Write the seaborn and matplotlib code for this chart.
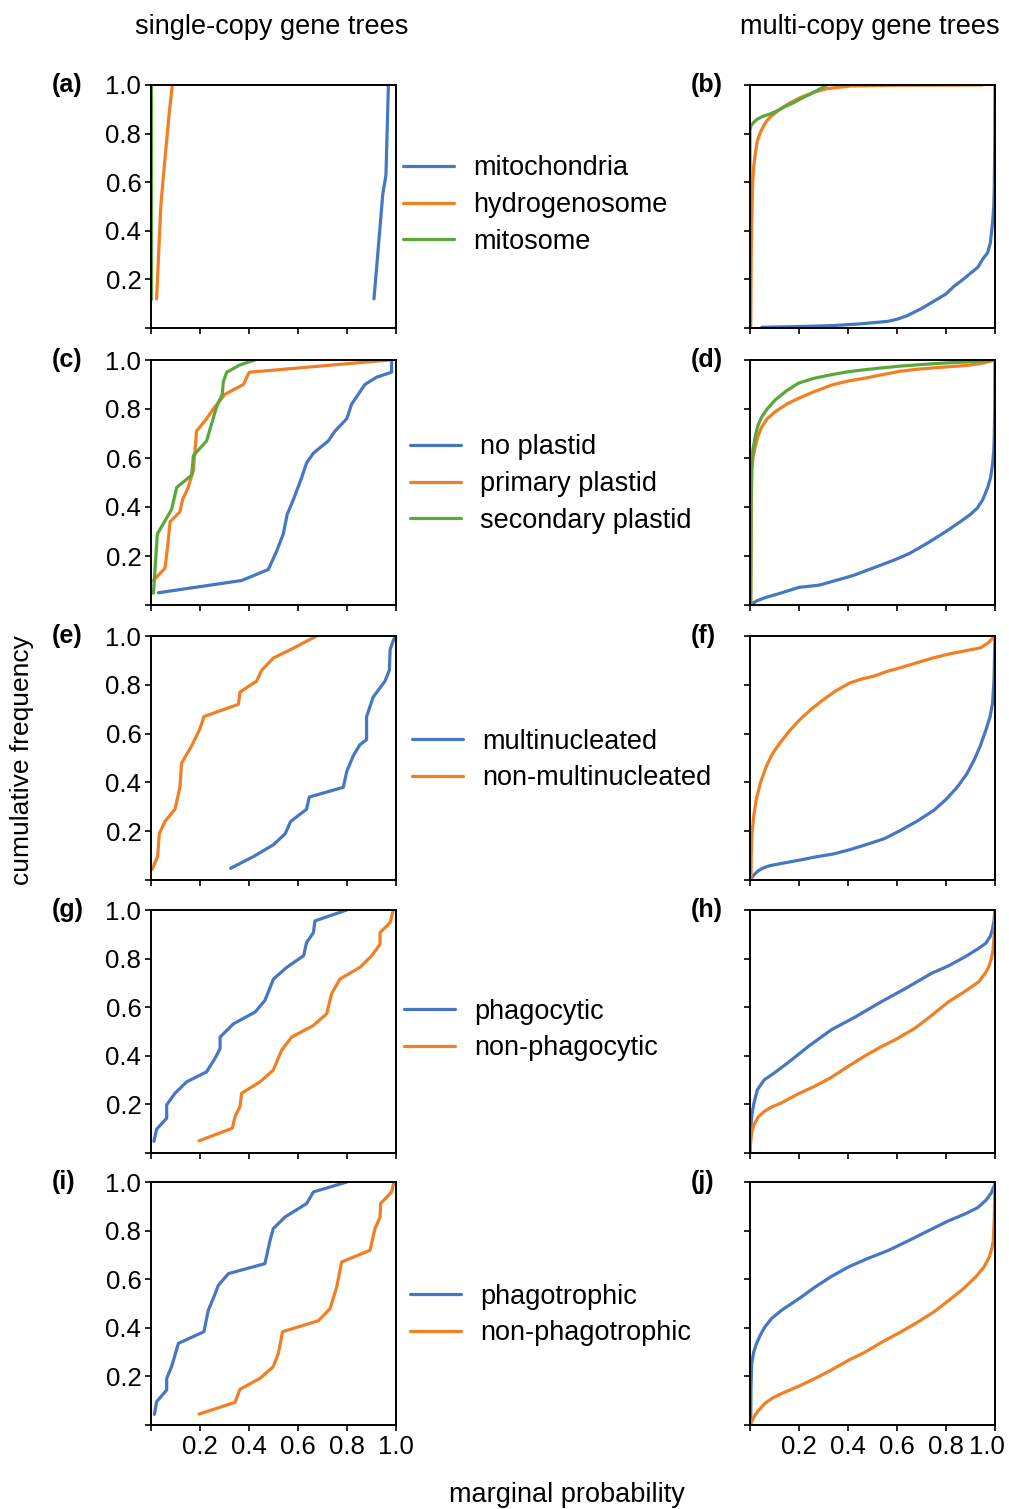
import numpy as np
import pandas as pd
import matplotlib.pyplot as plt
import matplotlib.transforms as mtransforms
from matplotlib.lines import Line2D
import seaborn as sns

sns.set_theme(style="ticks")
plt.rcParams['font.family'] = ['Liberation Sans', 'DejaVu Sans']
plt.rcParams['text.color'] = 'black'
plt.rcParams['xtick.color'] = 'black'
plt.rcParams['ytick.color'] = 'black'

BLUE = '#4677c3'
ORANGE = '#f17f24'
GREEN = '#5aa83a'

# ---- single-copy gene trees (left column) ----
# (a) organelle type
a_mito_x = [0.910, 0.921, 0.946, 0.959, 0.969]
a_mito_y = [0.12, 0.25, 0.55, 0.63, 1.00]
a_hydro_x = [0.023, 0.040, 0.050, 0.074, 0.087]
a_hydro_y = [0.12, 0.50, 0.62, 0.88, 1.00]
a_mitos_x = [0.0, 0.0]
a_mitos_y = [0.12, 1.00]

# (c) plastid
c_none_x = [0.03, 0.37, 0.479, 0.513, 0.540, 0.556, 0.581, 0.615, 0.635, 0.663, 0.724,
            0.751, 0.799, 0.819, 0.873, 0.921, 0.982, 0.982]
c_none_y = [0.05, 0.10, 0.145, 0.22, 0.29, 0.37, 0.43, 0.52, 0.58, 0.62, 0.67,
            0.71, 0.76, 0.82, 0.90, 0.93, 0.95, 1.00]
c_prim_x = [0.01, 0.057, 0.068, 0.078, 0.118, 0.129, 0.152, 0.173, 0.186, 0.227, 0.254,
            0.302, 0.377, 0.401, 0.976]
c_prim_y = [0.10, 0.15, 0.24, 0.34, 0.38, 0.43, 0.48, 0.55, 0.71, 0.76, 0.80,
            0.86, 0.90, 0.95, 1.00]
c_sec_x = [0.01, 0.026, 0.084, 0.105, 0.166, 0.173, 0.227, 0.268, 0.291, 0.295, 0.309,
           0.363, 0.424]
c_sec_y = [0.048, 0.29, 0.39, 0.48, 0.53, 0.61, 0.67, 0.81, 0.86, 0.91, 0.95,
           0.98, 1.00]

# (e) multinucleation
e_multi_x = [0.325, 0.418, 0.499, 0.548, 0.570, 0.635, 0.646, 0.785, 0.799, 0.826, 0.853,
             0.880, 0.880, 0.907, 0.955, 0.973, 0.976, 0.996]
e_multi_y = [0.048, 0.096, 0.144, 0.19, 0.24, 0.29, 0.34, 0.38, 0.445, 0.51, 0.555,
             0.575, 0.67, 0.75, 0.815, 0.86, 0.945, 1.00]
e_non_x = [0.005, 0.027, 0.034, 0.057, 0.098, 0.118, 0.125, 0.166, 0.200, 0.216, 0.357,
           0.363, 0.431, 0.452, 0.500, 0.581, 0.676]
e_non_y = [0.044, 0.096, 0.19, 0.24, 0.29, 0.38, 0.48, 0.55, 0.62, 0.67, 0.72,
           0.77, 0.815, 0.86, 0.91, 0.95, 1.00]

# (g) phagocytosis
g_phag_x = [0.012, 0.023, 0.064, 0.064, 0.098, 0.146, 0.227, 0.261, 0.282, 0.282, 0.337,
            0.425, 0.465, 0.500, 0.554, 0.623, 0.635, 0.663, 0.669, 0.799]
g_phag_y = [0.048, 0.098, 0.143, 0.198, 0.246, 0.293, 0.334, 0.389, 0.43, 0.477, 0.532,
            0.58, 0.628, 0.716, 0.764, 0.812, 0.866, 0.907, 0.955, 1.00]
g_non_x = [0.196, 0.332, 0.343, 0.363, 0.370, 0.445, 0.499, 0.533, 0.574, 0.663, 0.717,
           0.737, 0.771, 0.853, 0.901, 0.935, 0.935, 0.976, 0.989]
g_non_y = [0.05, 0.102, 0.15, 0.19, 0.246, 0.293, 0.341, 0.423, 0.477, 0.525, 0.573,
           0.655, 0.716, 0.764, 0.812, 0.859, 0.907, 0.948, 1.00]

# (i) phagotrophy
i_phag_x = [0.014, 0.023, 0.064, 0.064, 0.084, 0.112, 0.216, 0.234, 0.254, 0.275, 0.316,
            0.465, 0.486, 0.499, 0.547, 0.635, 0.663, 0.799]
i_phag_y = [0.044, 0.096, 0.144, 0.192, 0.24, 0.336, 0.384, 0.473, 0.52, 0.575, 0.623,
            0.664, 0.76, 0.808, 0.856, 0.911, 0.959, 1.00]
i_non_x = [0.196, 0.343, 0.363, 0.445, 0.499, 0.520, 0.537, 0.683, 0.731, 0.758, 0.778,
           0.894, 0.914, 0.935, 0.937, 0.982, 0.992]
i_non_y = [0.045, 0.093, 0.147, 0.192, 0.24, 0.295, 0.384, 0.429, 0.479, 0.568, 0.671,
           0.719, 0.808, 0.856, 0.911, 0.959, 1.00]

# ---- multi-copy gene trees (right column) ----
b_mito_x = [0.048, 0.2, 0.34, 0.45, 0.56, 0.6, 0.64, 0.7, 0.75, 0.8, 0.833, 0.87, 0.902,
            0.93, 0.949, 0.97, 0.981, 0.99, 0.995, 0.997, 0.999, 1.0]
b_mito_y = [0.003, 0.006, 0.01, 0.017, 0.027, 0.036, 0.05, 0.08, 0.11, 0.14, 0.172, 0.2, 0.227,
            0.25, 0.282, 0.31, 0.35, 0.433, 0.5, 0.57, 0.75, 1.0]
b_hydro_x = [0.003, 0.005, 0.007, 0.011, 0.015, 0.02, 0.03, 0.041, 0.055, 0.068, 0.09, 0.123,
             0.16, 0.205, 0.26, 0.314, 0.41, 0.615, 0.949]
b_hydro_y = [0.0, 0.3, 0.433, 0.6, 0.66, 0.707, 0.77, 0.803, 0.83, 0.852, 0.875, 0.9,
             0.925, 0.948, 0.97, 0.985, 0.996, 0.999, 1.0]
b_mitos_x = [0.0, 0.0, 0.005, 0.014, 0.03, 0.055, 0.08, 0.109, 0.14, 0.178, 0.21, 0.246,
             0.275, 0.301, 0.314]
b_mitos_y = [0.0, 0.817, 0.835, 0.845, 0.86, 0.872, 0.88, 0.893, 0.91, 0.927, 0.945, 0.962,
             0.978, 0.993, 1.0]

d_none_x = [0.004, 0.03, 0.062, 0.13, 0.2, 0.282, 0.35, 0.42, 0.5, 0.585, 0.65, 0.722, 0.8,
            0.86, 0.9, 0.928, 0.95, 0.97, 0.982, 0.99, 0.995, 0.997, 0.999, 1.0]
d_none_y = [0.003, 0.018, 0.03, 0.05, 0.072, 0.081, 0.1, 0.12, 0.15, 0.182, 0.21, 0.251, 0.3,
            0.341, 0.37, 0.396, 0.43, 0.479, 0.52, 0.575, 0.63, 0.686, 0.8, 1.0]
d_prim_x = [0.003, 0.005, 0.007, 0.012, 0.021, 0.033, 0.048, 0.07, 0.103, 0.15, 0.199, 0.26,
            0.337, 0.4, 0.475, 0.54, 0.612, 0.68, 0.75, 0.82, 0.888, 0.95, 1.0]
d_prim_y = [0.0, 0.4, 0.548, 0.6, 0.644, 0.69, 0.727, 0.76, 0.789, 0.82, 0.844, 0.87,
            0.899, 0.914, 0.927, 0.94, 0.954, 0.962, 0.968, 0.973, 0.978, 0.987, 1.0]
d_sec_x = [0.003, 0.005, 0.007, 0.012, 0.021, 0.033, 0.048, 0.07, 0.103, 0.15, 0.199, 0.26,
           0.337, 0.4, 0.475, 0.54, 0.612, 0.68, 0.75, 0.82, 0.888, 0.95, 1.0]
d_sec_y = [0.0, 0.42, 0.575, 0.635, 0.686, 0.735, 0.768, 0.8, 0.837, 0.875, 0.906, 0.925,
           0.941, 0.952, 0.961, 0.968, 0.975, 0.98, 0.985, 0.989, 0.992, 0.996, 1.0]

f_multi_x = [0.004, 0.015, 0.034, 0.055, 0.082, 0.14, 0.205, 0.27, 0.342, 0.41, 0.477, 0.55,
             0.614, 0.68, 0.751, 0.8, 0.847, 0.885, 0.915, 0.94, 0.963, 0.98, 0.99, 0.996, 1.0]
f_multi_y = [0.004, 0.02, 0.038, 0.05, 0.059, 0.07, 0.082, 0.095, 0.107, 0.125, 0.146, 0.17,
             0.203, 0.24, 0.286, 0.33, 0.382, 0.435, 0.492, 0.55, 0.615, 0.67, 0.725, 0.82, 1.0]
f_non_x = [0.004, 0.005, 0.008, 0.015, 0.025, 0.043, 0.066, 0.09, 0.121, 0.16, 0.203, 0.25,
           0.299, 0.35, 0.408, 0.46, 0.504, 0.56, 0.614, 0.68, 0.751, 0.82, 0.888, 0.942,
           0.97, 1.0]
f_non_y = [0.0, 0.1, 0.19, 0.26, 0.327, 0.4, 0.464, 0.515, 0.56, 0.61, 0.657, 0.7,
           0.739, 0.775, 0.808, 0.825, 0.835, 0.855, 0.87, 0.89, 0.911, 0.928, 0.941, 0.952,
           0.97, 1.0]

h_phag_x = [0.0, 0.003, 0.008, 0.016, 0.03, 0.058, 0.1, 0.153, 0.24, 0.332, 0.43, 0.537,
            0.64, 0.742, 0.81, 0.879, 0.93, 0.962, 0.98, 0.989, 0.996, 1.0]
h_phag_y = [0.0, 0.096, 0.16, 0.205, 0.26, 0.301, 0.33, 0.37, 0.44, 0.507, 0.56, 0.623,
            0.68, 0.74, 0.77, 0.808, 0.84, 0.863, 0.89, 0.918, 0.955, 1.0]
h_non_x = [0.0, 0.003, 0.008, 0.016, 0.035, 0.058, 0.09, 0.126, 0.19, 0.263, 0.33, 0.4,
           0.47, 0.537, 0.6, 0.674, 0.74, 0.811, 0.87, 0.934, 0.96, 0.975, 0.985, 0.992,
           0.997, 1.0]
h_non_y = [0.0, 0.05, 0.09, 0.116, 0.15, 0.171, 0.19, 0.205, 0.24, 0.274, 0.31, 0.356,
           0.4, 0.438, 0.47, 0.514, 0.565, 0.623, 0.66, 0.705, 0.74, 0.767, 0.8, 0.836,
           0.9, 1.0]

j_phag_x = [0.003, 0.004, 0.007, 0.015, 0.027, 0.042, 0.061, 0.09, 0.13, 0.2, 0.266, 0.33,
            0.403, 0.48, 0.566, 0.65, 0.745, 0.81, 0.881, 0.93, 0.963, 0.985, 1.0]
j_phag_y = [0.0, 0.15, 0.253, 0.3, 0.336, 0.37, 0.404, 0.44, 0.473, 0.52, 0.568, 0.61,
            0.651, 0.685, 0.719, 0.76, 0.808, 0.84, 0.87, 0.895, 0.925, 0.955, 0.993]
j_non_x = [0.0, 0.003, 0.02, 0.035, 0.061, 0.09, 0.13, 0.2, 0.266, 0.33, 0.403, 0.47, 0.54,
           0.61, 0.676, 0.75, 0.813, 0.87, 0.922, 0.955, 0.977, 0.988, 0.993, 0.997, 1.0]
j_non_y = [0.0, 0.007, 0.04, 0.06, 0.089, 0.11, 0.13, 0.16, 0.192, 0.225, 0.267, 0.3, 0.342,
           0.38, 0.418, 0.465, 0.514, 0.56, 0.61, 0.65, 0.692, 0.73, 0.76, 0.85, 1.0]

rows = [
    (['mitochondria', 'hydrogenosome', 'mitosome'],
     [(a_mito_x, a_mito_y), (a_hydro_x, a_hydro_y), (a_mitos_x, a_mitos_y)],
     [(b_mito_x, b_mito_y), (b_hydro_x, b_hydro_y), (b_mitos_x, b_mitos_y)], 'a', 'b'),
    (['no plastid', 'primary plastid', 'secondary plastid'],
     [(c_none_x, c_none_y), (c_prim_x, c_prim_y), (c_sec_x, c_sec_y)],
     [(d_none_x, d_none_y), (d_prim_x, d_prim_y), (d_sec_x, d_sec_y)], 'c', 'd'),
    (['multinucleated', 'non-multinucleated'],
     [(e_multi_x, e_multi_y), (e_non_x, e_non_y)],
     [(f_multi_x, f_multi_y), (f_non_x, f_non_y)], 'e', 'f'),
    (['phagocytic', 'non-phagocytic'],
     [(g_phag_x, g_phag_y), (g_non_x, g_non_y)],
     [(h_phag_x, h_phag_y), (h_non_x, h_non_y)], 'g', 'h'),
    (['phagotrophic', 'non-phagotrophic'],
     [(i_phag_x, i_phag_y), (i_non_x, i_non_y)],
     [(j_phag_x, j_phag_y), (j_non_x, j_non_y)], 'i', 'j'),
]

W, H = 1009, 1509
fig = plt.figure(figsize=(W / 100, H / 100), dpi=100)

# pixel layout of the panels
row_px = [(85, 328), (360, 605), (636, 880), (910, 1153), (1182, 1425)]
col_px = [151, 750]
panel_w = 245
legend_px = [(403, 205), (410, 484), (412, 760), (404, 1030), (410, 1315)]
colors = [BLUE, ORANGE, GREEN]
ticks = [0, 0.2, 0.4, 0.6, 0.8, 1.0]
ticklabels = ['', '0.2', '0.4', '0.6', '0.8', '1.0']


def make_df(labels, series):
    parts = []
    for lab, (xs, ys) in zip(labels, series):
        parts.append(pd.DataFrame({'x': xs, 'y': ys, 'group': lab}))
    return pd.concat(parts, ignore_index=True)


for r, (labels, left, right, tag_l, tag_r) in enumerate(rows):
    top, bot = row_px[r]
    pal = dict(zip(labels, colors))
    for c, (series, tag) in enumerate([(left, tag_l), (right, tag_r)]):
        ax = fig.add_axes([col_px[c] / W, 1 - bot / H, panel_w / W, (bot - top) / H])
        df = make_df(labels, series)
        sns.lineplot(data=df, x='x', y='y', hue='group', palette=pal, sort=False,
                     estimator=None, legend=False, lw=2.3, ax=ax)
        ax.set_xlim(0, 1)
        ax.set_ylim(0, 1)
        ax.set_xlabel('')
        ax.set_ylabel('')
        ax.set_xticks(ticks)
        ax.set_yticks(ticks)
        ax.set_xticklabels(ticklabels if r == 4 else [''] * 6)
        ax.set_yticklabels(ticklabels if c == 0 else [''] * 6)
        ax.tick_params(direction='out', length=4, width=1.2, labelsize=18.5, colors='black', pad=3)
        for sp in ax.spines.values():
            sp.set_visible(True)
            sp.set_color('black')
            sp.set_linewidth(1.4)
        off = -0.405 if c == 0 else -0.24
        ax.text(off, 1.0, f'({tag})', transform=ax.transAxes, fontsize=18,
                fontweight='bold', va='center', ha='left')
        if r == 4 and c == 1:
            # keep the last tick label inside the figure edge
            shift = mtransforms.ScaledTranslation(-8 / 100, 0, fig.dpi_scale_trans)
            lab = ax.get_xticklabels()[-1]
            lab.set_transform(lab.get_transform() + shift)

    handles = [Line2D([0], [0], color=colors[k], lw=2.3) for k in range(len(labels))]
    lx, ly = legend_px[r]
    fig.legend(handles, labels, loc='center left', bbox_to_anchor=(lx / W, 1 - ly / H),
               frameon=False, fontsize=19.5, handlelength=1.9, handletextpad=0.7,
               borderaxespad=0, borderpad=0, labelspacing=0.4)

fig.text(272 / W, 1 - 27 / H, 'single-copy gene trees', ha='center', va='center', fontsize=19.5)
fig.text(870 / W, 1 - 27 / H, 'multi-copy gene trees', ha='center', va='center', fontsize=19.5)
fig.text(22 / W, 1 - 760 / H, 'cumulative frequency', rotation=90, ha='center', va='center', fontsize=19)
fig.text(567 / W, 1 - 1495 / H, 'marginal probability', ha='center', va='center', fontsize=19.5)

fig.savefig('out.png', dpi=100, facecolor='white')
